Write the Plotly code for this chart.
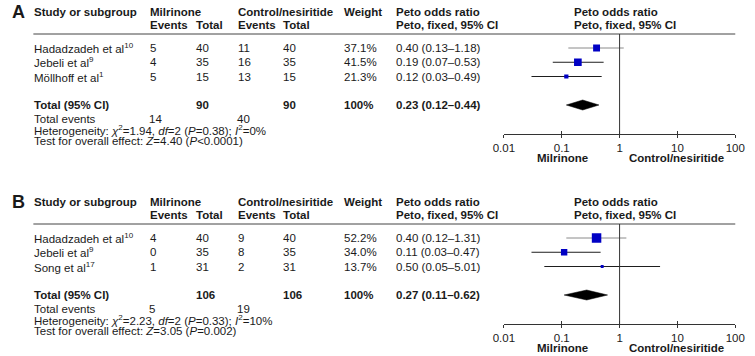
import plotly.graph_objects as go

W, H = 755, 356
FONT = "Liberation Sans, Arial, Helvetica, sans-serif"
TXT = "#1a1a1a"
FS = 11.5

# ---------------- Panel A data ----------------
a_studies = ["Hadadzadeh et al", "Jebeli et al", "Möllhoff et al"]
a_refs = ["10", "9", "1"]
a_mil_events = [5, 4, 5]
a_mil_total = [40, 35, 15]
a_ctl_events = [11, 16, 13]
a_ctl_total = [40, 35, 15]
a_weight = [37.1, 41.5, 21.3]
a_or = [0.40, 0.19, 0.12]
a_lo = [0.13, 0.07, 0.03]
a_hi = [1.18, 0.53, 0.49]
a_total = [0.23, 0.12, 0.44]          # pooled OR, low, high
a_n = [90, 90]                         # total participants milrinone, control
a_events = [14, 40]                    # total events milrinone, control
a_het = ["1.94", "2", "0.38", "0%"]    # chi2, df, P, I2
a_overall = ["4.40", "&lt;", "0.0001"] # Z, operator, P

# ---------------- Panel B data ----------------
b_studies = ["Hadadzadeh et al", "Jebeli et al", "Song et al"]
b_refs = ["10", "9", "17"]
b_mil_events = [4, 0, 1]
b_mil_total = [40, 35, 31]
b_ctl_events = [9, 8, 2]
b_ctl_total = [40, 35, 31]
b_weight = [52.2, 34.0, 13.7]
b_or = [0.40, 0.11, 0.50]
b_lo = [0.12, 0.03, 0.05]
b_hi = [1.31, 0.47, 5.01]
b_total = [0.27, 0.11, 0.62]
b_n = [106, 106]
b_events = [5, 19]
b_het = ["2.23", "2", "0.33", "10%"]
b_overall = ["3.05", "=", "0.002"]

tick_vals = [0.01, 0.1, 1, 10, 100]
tick_text = ["0.01", "0.1", "1", "10", "100"]

panels = [
    dict(letter="A", oy=0, studies=a_studies, refs=a_refs, me=a_mil_events, mt=a_mil_total,
         ce=a_ctl_events, ct=a_ctl_total, w=a_weight, orv=a_or, lo=a_lo, hi=a_hi,
         total=a_total, n=a_n, ev=a_events, het=a_het, ov=a_overall),
    dict(letter="B", oy=190, studies=b_studies, refs=b_refs, me=b_mil_events, mt=b_mil_total,
         ce=b_ctl_events, ct=b_ctl_total, w=b_weight, orv=b_or, lo=b_lo, hi=b_hi,
         total=b_total, n=b_n, ev=b_events, het=b_het, ov=b_overall),
]

# layout geometry (pixels)
X_STUDY, X_ME, X_MT, X_CE, X_CT, X_W, X_OR, X_OR2 = 23, 142, 189, 232, 279, 341, 395, 578
PLOT_L, PLOT_R = 507, 745
ROW1, ROWSP = 48, 14.25
Y_LINE, Y_AXIS = 34, 134


def px(x, y):
    return x / W, 1 - y / H


def row_px(r):
    return ROW1 + (r - 1) * ROWSP


fig = go.Figure()
annotations = []
shapes = []


def txt(x, y, s, bold=False, size=FS, anchor="left"):
    xx, yy = px(x, y)
    if bold:
        s = "<b>" + s + "</b>"
    annotations.append(dict(x=xx, y=yy, xref="paper", yref="paper", text=s, showarrow=False,
                            xanchor=anchor, yanchor="middle",
                            font=dict(family=FONT, size=size, color=TXT), borderpad=0))


r_top = (Y_LINE - ROW1) / ROWSP + 1
r_bot = (Y_AXIS - ROW1) / ROWSP + 1
TOTAL_ROW = 5

for k, p in enumerate(panels):
    oy = p["oy"]
    sfx = "" if k == 0 else str(k + 1)
    xa, ya = "x" + sfx, "y" + sfx
    # header texts
    txt(0, oy + 12, p["letter"], bold=True, size=18)
    txt(X_STUDY, oy + 12, "Study or subgroup", bold=True)
    txt(X_ME, oy + 12, "Milrinone", bold=True)
    txt(X_ME, oy + 25, "Events", bold=True)
    txt(X_MT, oy + 25, "Total", bold=True)
    txt(X_CE, oy + 12, "Control/nesiritide", bold=True)
    txt(X_CE, oy + 25, "Events", bold=True)
    txt(X_CT, oy + 25, "Total", bold=True)
    txt(X_W, oy + 12, "Weight", bold=True)
    txt(X_OR, oy + 12, "Peto odds ratio", bold=True)
    txt(X_OR, oy + 25, "Peto, fixed, 95% CI", bold=True)
    txt(X_OR2, oy + 12, "Peto odds ratio", bold=True)
    txt(X_OR2, oy + 25, "Peto, fixed, 95% CI", bold=True)

    x0, yl = px(X_STUDY, oy + Y_LINE)
    x1, _ = px(PLOT_R, oy + Y_LINE)
    shapes.append(dict(type="line", xref="paper", yref="paper", x0=x0, x1=x1, y0=yl, y1=yl,
                       line=dict(color="#444", width=1)))

    for i in range(len(p["studies"])):
        r = i + 1
        y = oy + row_px(r)
        txt(X_STUDY, y, p["studies"][i] + "<sup>" + p["refs"][i] + "</sup>")
        txt(X_ME, y, str(p["me"][i]))
        txt(X_MT, y, str(p["mt"][i]))
        txt(X_CE, y, str(p["ce"][i]))
        txt(X_CT, y, str(p["ct"][i]))
        txt(X_W, y, f"{p['w'][i]:.1f}%")
        txt(X_OR, y, f"{p['orv'][i]:.2f} ({p['lo'][i]:.2f}–{p['hi'][i]:.2f})")
        col = "#8a8a8a" if i == 0 else "#1e1e1e"
        fig.add_trace(go.Scatter(x=[p["lo"][i], p["hi"][i]], y=[r, r], mode="lines",
                                 line=dict(color=col, width=1), xaxis=xa, yaxis=ya,
                                 hoverinfo="skip", showlegend=False))
        fig.add_trace(go.Scatter(x=[p["orv"][i]], y=[r], mode="markers",
                                 marker=dict(symbol="square", size=0.6 + 0.17 * p["w"][i],
                                             color="#0000c4", line=dict(width=0)),
                                 xaxis=xa, yaxis=ya, hoverinfo="skip", showlegend=False))

    # total row
    yt = oy + row_px(TOTAL_ROW)
    tor, tlo, thi = p["total"]
    txt(X_STUDY, yt, "Total (95% CI)", bold=True)
    txt(X_MT, yt, str(p["n"][0]), bold=True)
    txt(X_CT, yt, str(p["n"][1]), bold=True)
    txt(X_W, yt, "100%", bold=True)
    txt(X_OR, yt, f"{tor:.2f} ({tlo:.2f}–{thi:.2f})", bold=True)
    h = 5 / ROWSP
    fig.add_trace(go.Scatter(x=[tlo, tor, thi, tor, tlo],
                             y=[TOTAL_ROW, TOTAL_ROW - h, TOTAL_ROW, TOTAL_ROW + h, TOTAL_ROW],
                             mode="lines", fill="toself", fillcolor="#000",
                             line=dict(color="#000", width=0.5), xaxis=xa, yaxis=ya,
                             hoverinfo="skip", showlegend=False))

    txt(X_STUDY, oy + 119, "Total events")
    txt(X_ME - 1, oy + 119, str(p["ev"][0]))
    txt(X_CE - 1, oy + 119, str(p["ev"][1]))
    chi2, df, ph, i2 = p["het"]
    txt(X_STUDY, oy + 130,
        f"Heterogeneity: <i>χ</i><sup>2</sup>={chi2}, <i>df</i>={df} (<i>P</i>={ph}); <i>I</i><sup>2</sup>={i2}")
    z, op, pv = p["ov"]
    txt(X_STUDY, oy + 141, f"Test for overall effect: <i>Z</i>={z} (<i>P</i>{op}{pv})")

    # direction labels
    txt(567, oy + 158, "Milrinone", bold=True, anchor="center")
    txt(685, oy + 158, "Control/nesiritide", bold=True, anchor="center")

    # line of no effect
    shapes.append(dict(type="line", xref=xa, yref=ya + " domain", x0=1, x1=1, y0=0, y1=1,
                       line=dict(color="#333", width=1)))

    dom_x = [PLOT_L / W, PLOT_R / W]
    dom_y = [1 - (oy + Y_AXIS) / H, 1 - (oy + Y_LINE) / H]
    axis_common = dict(type="log", range=[-2, 2], domain=dom_x, showgrid=False, zeroline=False,
                       showline=True, linecolor="#333", linewidth=1,
                       tickmode="array", tickvals=tick_vals, ticktext=tick_text,
                       tickcolor="#333", tickwidth=1, ticklen=3,
                       tickfont=dict(family=FONT, size=FS, color=TXT))
    fig.layout["xaxis" + sfx] = dict(axis_common, anchor=ya, ticks="outside")
    fig.layout["yaxis" + sfx] = dict(domain=dom_y, range=[r_bot, r_top], visible=False,
                                     anchor=xa, showgrid=False, zeroline=False)
    # overlay axis for the upper halves of the crossing ticks
    ov_id = str(k + 3)
    fig.layout["xaxis" + ov_id] = dict(axis_common, anchor=ya, overlaying=xa, ticks="inside",
                                       showticklabels=False)
    fig.add_trace(go.Scatter(x=[1], y=[r_top], mode="markers", marker=dict(opacity=0),
                             xaxis="x" + ov_id, yaxis=ya, hoverinfo="skip", showlegend=False))

fig.update_layout(width=W, height=H, margin=dict(l=0, r=0, t=0, b=0),
                  paper_bgcolor="white", plot_bgcolor="white",
                  annotations=annotations, shapes=shapes, showlegend=False)

fig.write_html("out.html", config={"displayModeBar": False},
               post_script="document.body.style.margin='0';")
